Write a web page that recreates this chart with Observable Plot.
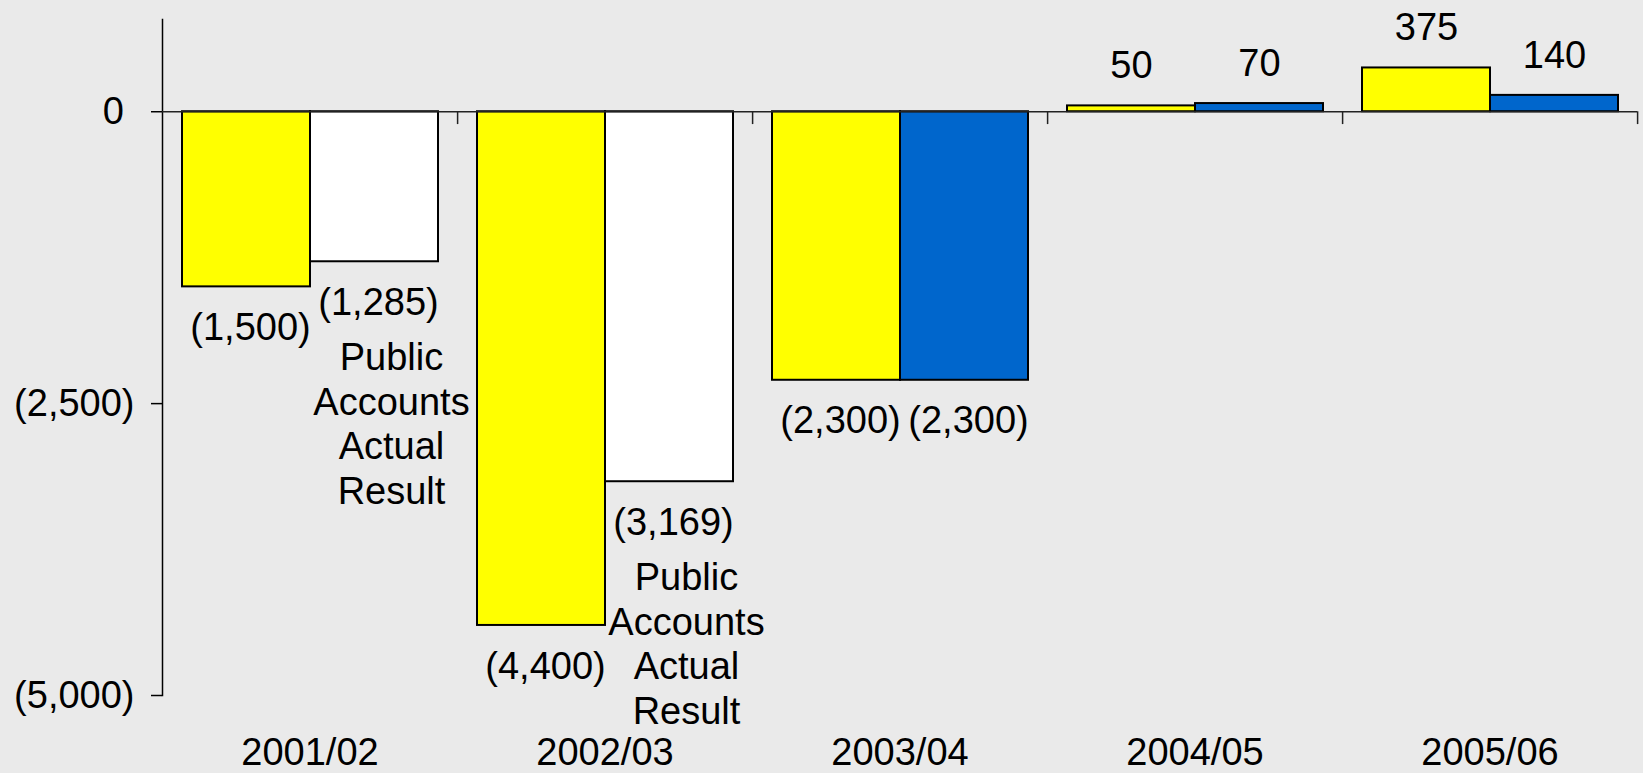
<!DOCTYPE html>
<html>
<head>
<meta charset="utf-8">
<script src="https://cdn.jsdelivr.net/npm/d3@7"></script>
<script src="https://cdn.jsdelivr.net/npm/@observablehq/plot@0.6"></script>
<style>
  html, body { margin: 0; padding: 0; background: #eaeaea; }
  #chart svg { display: block; }
</style>
</head>
<body>
<div id="chart"></div>
<script>
// ---- data ----
const years = ["2001/02", "2002/03", "2003/04", "2004/05", "2005/06"];
const budget = [-1500, -4400, -2300, 50, 375];
const actual = [-1285, -3169, -2300, 70, 140];
const actualNotes = ["Public\nAccounts\nActual\nResult", "Public\nAccounts\nActual\nResult", null, null, null];
const yTicks = [-5000, -2500, 0];
const seriesNames = ["Budget", "Actual"];

// ---- table ----
const rows = [];
years.forEach((year, i) => {
  rows.push({year, series: "Budget", value: budget[i], note: null});
  rows.push({year, series: "Actual", value: actual[i], note: actualNotes[i]});
});

const fmtNum = d3.format(",");
const fmtVal = v => v < 0 ? `(${fmtNum(-v)})` : fmtNum(v);
const fmtAxis = v => v < 0 ? `(${fmtNum(-v)})` : `${fmtNum(v)}\u2008`;

const W = 1643, H = 773;
const mL = 161, mR = 6, mT = 19, mB = 78;
const fxBand = (W - mL - mR) / years.length;

const fillFor = d => d.series === "Budget" ? "#ffff00" : (d.note ? "#ffffff" : "#0066cc");

const chart = Plot.plot({
  width: W,
  height: H,
  marginLeft: mL,
  marginRight: mR,
  marginTop: mT,
  marginBottom: mB,
  style: {background: "#eaeaea", fontFamily: "'Liberation Sans', Arial, sans-serif", fontSize: "38px", color: "black"},
  fx: {domain: years, padding: 0, label: null},
  x: {domain: seriesNames, paddingInner: 0, paddingOuter: 0.147, axis: null},
  y: {domain: [-5000, 790], label: null},
  color: {type: "identity"},
  marks: [
    Plot.frame({anchor: "left", facetAnchor: "left", stroke: "black", strokeWidth: 1.5}),
    Plot.barY(rows, {fx: "year", x: "series", y: "value", fill: fillFor, stroke: "black", strokeWidth: 2}),
    Plot.ruleY([0], {stroke: "#222", strokeWidth: 1.5}),
    Plot.ruleX(years, {fx: d => d, x: null, y1: 0, y2: -110, dx: fxBand / 2, stroke: "#222", strokeWidth: 1.5}),
    Plot.axisY({ticks: yTicks, tickSize: 11, tickPadding: 17, tickFormat: fmtAxis, label: null, fontSize: 38, strokeWidth: 1.5}),
    Plot.axisFx({anchor: "bottom", tickSize: 0, tickPadding: 43, label: null, fontSize: 38}),
    Plot.text(rows.filter(d => d.value >= 0), {fx: "year", x: "series", y: "value", text: d => fmtVal(d.value), dy: -40, fontSize: 38}),
    Plot.text(rows.filter(d => d.value < 0), {fx: "year", x: "series", y: "value", text: d => fmtVal(d.value), dy: 41, dx: 4, fontSize: 38}),
    Plot.text(rows.filter(d => d.note), {fx: "year", x: "series", y: "value", text: "note", lineAnchor: "top", lineHeight: 1.17, dy: 77, dx: 17, fontSize: 38})
  ]
});
document.getElementById("chart").appendChild(chart);
</script>
</body>
</html>
